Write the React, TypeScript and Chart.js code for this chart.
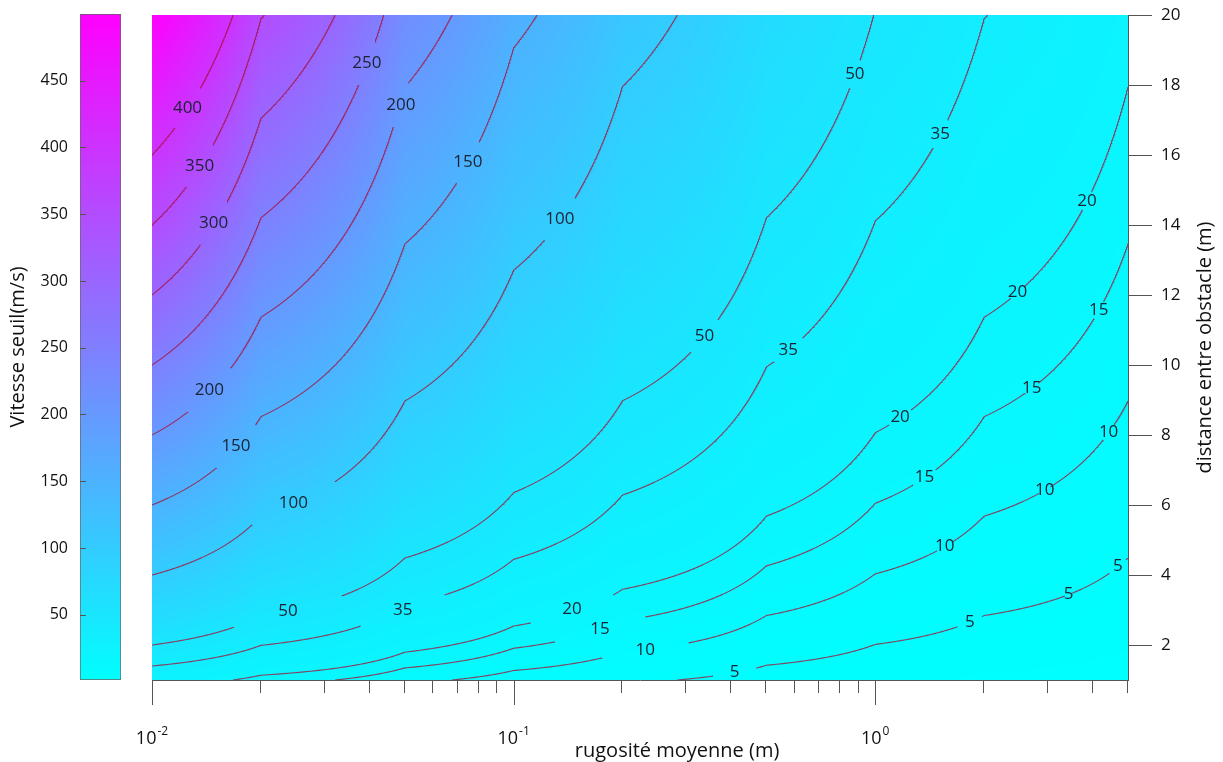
import React, { useEffect, useRef } from "react";
import { Chart, registerables } from "chart.js";

Chart.register(...registerables);

const FONT = "'Open Sans', 'DejaVu Sans', sans-serif";

// Velocity field grid (value at the two distance rows)
const roughness = [0.01, 0.02, 0.05, 0.1, 0.2, 0.5, 1, 2, 5];
const distanceRows = [1, 20];
const velocityAtD1 = [25, 17.6, 11.15, 7.87, 5.57, 3.52, 2.48, 1.76, 1.115];
const velocityAtD20 = [500, 352, 223, 157.4, 111.4, 70.4, 49.6, 35.2, 22.3];

const contourLevels = [5, 10, 15, 20, 35, 50, 100, 150, 200, 250, 300, 350, 400];

const distanceTicks = [2, 4, 6, 8, 10, 12, 14, 16, 18, 20];
const colorbarTicks = [50, 100, 150, 200, 250, 300, 350, 400, 450];
const roughnessMajorTicks = [0.01, 0.1, 1];
const roughnessMajorExponents = ["-2", "-1", "0"];
const roughnessMinorTicks = [
  0.02, 0.03, 0.04, 0.05, 0.06, 0.07, 0.08, 0.09,
  0.2, 0.3, 0.4, 0.5, 0.6, 0.7, 0.8, 0.9,
  2, 3, 4, 5,
];

// Contour labels: level and the distance range (m) where the line is interrupted
const labelLevels = [400, 350, 300, 250, 200, 200, 150, 150, 100, 100, 50, 35, 50, 50, 35, 35, 20, 15, 10, 5, 20, 15, 10, 5, 15, 10, 5, 10, 5, 20, 15, 20];
const labelGapFrom = [16.77, 15.09, 13.43, 18.0, 16.8, 8.66, 15.2, 7.06, 13.57, 5.43, 2.51, 2.54, 10.37, 17.91, 10.09, 16.2, 2.63, 2.09, 1.63, 1.11, 8.29, 6.57, 4.69, 2.52, 9.19, 6.33, 3.4, 7.86, 4.05, 11.9, 11.33, 14.43];
const labelGapTo = [17.91, 16.29, 14.66, 19.23, 18.06, 9.91, 16.37, 8.29, 14.77, 6.66, 3.4, 3.43, 11.29, 18.71, 10.77, 17.0, 3.43, 2.8, 2.06, 1.34, 8.71, 7.0, 4.94, 2.81, 9.48, 6.52, 3.48, 8.29, 4.43, 12.24, 11.81, 14.95];

const vMin = Math.min(...velocityAtD1);
const vMax = Math.max(...velocityAtD20);

function rowAt(i: number, d: number) {
  const s = (d - distanceRows[0]) / (distanceRows[1] - distanceRows[0]);
  return velocityAtD1[i] + s * (velocityAtD20[i] - velocityAtD1[i]);
}

function velocity(x: number, d: number) {
  const n = roughness.length;
  let i = 0;
  while (i < n - 2 && x > roughness[i + 1]) i++;
  let t = (x - roughness[i]) / (roughness[i + 1] - roughness[i]);
  t = Math.max(0, Math.min(1, t));
  const a = rowAt(i, d);
  const b = rowAt(i + 1, d);
  return a + t * (b - a);
}

function roughnessOnContour(level: number, d: number): number | null {
  const n = roughness.length;
  const vals = roughness.map((_, i) => rowAt(i, d));
  const eps = 1e-7;
  if (level > vals[0] + eps || level < vals[n - 1] - eps) return null;
  for (let i = 0; i < n - 1; i++) {
    if (vals[i] >= level - eps && level >= vals[i + 1] - eps) {
      let t = (vals[i] - level) / (vals[i] - vals[i + 1]);
      t = Math.max(0, Math.min(1, t));
      return roughness[i] + t * (roughness[i + 1] - roughness[i]);
    }
  }
  return null;
}

function contourSegments(level: number) {
  const gaps: number[][] = [];
  labelLevels.forEach((l, k) => {
    if (l === level) gaps.push([labelGapFrom[k], labelGapTo[k]]);
  });
  const d0 = distanceRows[0];
  const d1 = distanceRows[1];
  const ds: number[] = [];
  const steps = 760;
  for (let k = 0; k <= steps; k++) ds.push(d0 + ((d1 - d0) * k) / steps);
  roughness.forEach((_, i) => {
    const d = d0 + ((level - velocityAtD1[i]) / (velocityAtD20[i] - velocityAtD1[i])) * (d1 - d0);
    if (d >= d0 && d <= d1) ds.push(d);
  });
  gaps.forEach((g) => ds.push(g[0], g[1]));
  ds.sort((a, b) => a - b);
  const inGap = (d: number) => gaps.some((g) => d > g[0] + 1e-9 && d < g[1] - 1e-9);
  const segs: { x: number; y: number }[][] = [];
  let cur: { x: number; y: number }[] = [];
  for (const d of ds) {
    if (inGap(d)) {
      if (cur.length > 1) segs.push(cur);
      cur = [];
      continue;
    }
    const x = roughnessOnContour(level, d);
    if (x === null) continue;
    if (cur.length > 0) {
      const prev = cur[cur.length - 1];
      if (Math.abs(prev.y - d) < 1e-9) continue;
      if (inGap((prev.y + d) / 2)) {
        if (cur.length > 1) segs.push(cur);
        cur = [];
      }
    }
    cur.push({ x, y: d });
  }
  if (cur.length > 1) segs.push(cur);
  return segs;
}

function cool(v: number): [number, number, number] {
  let t = (v - vMin) / (vMax - vMin);
  t = Math.max(0, Math.min(1, t));
  return [Math.round(255 * t), Math.round(255 * (1 - t)), 255];
}

const fieldPlugin = {
  id: "field",
  beforeDraw(chart: any) {
    const { ctx, chartArea: a, scales } = chart;
    const xs = scales.x;
    const ys = scales.y;
    const w = Math.round(a.right - a.left);
    const h = Math.round(a.bottom - a.top);
    if (!(w > 0 && h > 0)) return;
    const off = document.createElement("canvas");
    off.width = w;
    off.height = h;
    const octx = off.getContext("2d")!;
    const img = octx.createImageData(w, h);
    const colX: number[] = [];
    for (let c = 0; c < w; c++) colX.push(xs.getValueForPixel(a.left + c + 0.5));
    for (let r = 0; r < h; r++) {
      const d = ys.getValueForPixel(a.top + r + 0.5);
      for (let c = 0; c < w; c++) {
        const [R, G, B] = cool(velocity(colX[c], d));
        const o = (r * w + c) * 4;
        img.data[o] = R;
        img.data[o + 1] = G;
        img.data[o + 2] = B;
        img.data[o + 3] = 255;
      }
    }
    octx.putImageData(img, 0, 0);
    ctx.drawImage(off, a.left, a.top);
  },
};

const labelPlugin = {
  id: "contourLabels",
  afterDatasetsDraw(chart: any) {
    const { ctx, scales } = chart;
    const xs = scales.x;
    const ys = scales.y;
    ctx.save();
    ctx.font = `17px ${FONT}`;
    ctx.fillStyle = "#1b2333";
    ctx.textAlign = "center";
    ctx.textBaseline = "middle";
    labelLevels.forEach((level, k) => {
      const xa = roughnessOnContour(level, labelGapFrom[k]);
      const xb = roughnessOnContour(level, labelGapTo[k]);
      if (xa === null || xb === null) return;
      const px = (xs.getPixelForValue(xa) + xs.getPixelForValue(xb)) / 2;
      const py = (ys.getPixelForValue(labelGapFrom[k]) + ys.getPixelForValue(labelGapTo[k])) / 2;
      ctx.fillText(String(level), px, py);
    });
    ctx.restore();
  },
};

const axisPlugin = {
  id: "axisDecor",
  afterDraw(chart: any) {
    const { ctx, chartArea: a, scales } = chart;
    const xs = scales.x;
    ctx.save();
    ctx.strokeStyle = "#555";
    ctx.lineWidth = 1;
    ctx.beginPath();
    roughnessMinorTicks.forEach((v) => {
      const p = Math.round(xs.getPixelForValue(v)) - 0.5;
      ctx.moveTo(p, a.bottom);
      ctx.lineTo(p, a.bottom + 13);
    });
    roughnessMajorTicks.forEach((v) => {
      const p = Math.round(xs.getPixelForValue(v)) + 0.5;
      ctx.moveTo(p, a.bottom);
      ctx.lineTo(p, a.bottom + 25);
    });
    ctx.stroke();

    ctx.fillStyle = "#111";
    ctx.textBaseline = "alphabetic";
    ctx.textAlign = "left";
    roughnessMajorTicks.forEach((v, i) => {
      const p = xs.getPixelForValue(v);
      const exp = roughnessMajorExponents[i];
      ctx.font = `18px ${FONT}`;
      const w1 = ctx.measureText("10").width;
      ctx.font = `12px ${FONT}`;
      const w2 = ctx.measureText(exp).width;
      const left = p - (w1 + w2 + 1) / 2;
      ctx.font = `18px ${FONT}`;
      ctx.fillText("10", left, a.bottom + 64);
      ctx.font = `12px ${FONT}`;
      ctx.fillText(exp, left + w1 + 1, a.bottom + 55);
    });

    ctx.font = `20px ${FONT}`;
    ctx.textAlign = "center";
    ctx.textBaseline = "middle";
    ctx.fillText("rugosité moyenne (m)", a.left + (a.right - a.left) * 0.538, a.bottom + 71);

    ctx.translate(a.right + 77, (a.top + a.bottom) / 2);
    ctx.rotate(-Math.PI / 2);
    ctx.fillText("distance entre obstacle (m)", 0, 0);
    ctx.restore();
  },
};

const colorbarTickPlugin = {
  id: "colorbarTicks",
  afterDatasetsDraw(chart: any) {
    const { ctx, chartArea: a, scales } = chart;
    const ys = scales.y;
    ctx.save();
    ctx.strokeStyle = "#555";
    ctx.lineWidth = 1;
    ctx.beginPath();
    colorbarTicks.forEach((v) => {
      const p = Math.round(ys.getPixelForValue(v)) + 0.5;
      ctx.moveTo(a.left, p);
      ctx.lineTo(a.left + 6, p);
    });
    ctx.stroke();
    ctx.restore();
  },
};

export default function App() {
  const mainRef = useRef<HTMLCanvasElement>(null);
  const barRef = useRef<HTMLCanvasElement>(null);

  useEffect(() => {
    const datasets: any[] = [];
    contourLevels.forEach((level) => {
      contourSegments(level).forEach((seg) => {
        datasets.push({
          label: String(level),
          data: seg,
          showLine: true,
          borderColor: "rgba(170,8,45,0.75)",
          borderWidth: 1.1,
          pointRadius: 0,
          fill: false,
          tension: 0,
        });
      });
    });

    const main = new Chart(mainRef.current!, {
      type: "scatter",
      data: { datasets },
      options: {
        responsive: false,
        animation: false,
        events: [],
        parsing: false,
        layout: { padding: { left: 152, top: 15, right: 0, bottom: 0 } },
        plugins: { legend: { display: false }, tooltip: { enabled: false } },
        scales: {
          x: {
            type: "logarithmic",
            position: "bottom",
            min: 0.01,
            max: 5,
            grid: { display: false, drawTicks: false },
            ticks: { display: false },
            border: { display: true, color: "#555", width: 1 },
            afterFit: (s: any) => {
              s.height = 82;
              s.paddingLeft = 0;
              s.paddingRight = 0;
            },
          },
          y: {
            type: "linear",
            position: "right",
            min: 1,
            max: 20,
            afterBuildTicks: (s: any) => {
              s.ticks = distanceTicks.map((v) => ({ value: v }));
            },
            grid: { drawOnChartArea: false, drawTicks: true, tickLength: 24, color: "#555" },
            border: { display: true, color: "#555", width: 1 },
            ticks: { font: { family: FONT, size: 17 }, color: "#111", padding: 9 },
            afterFit: (s: any) => {
              s.width = 95;
              s.paddingTop = 0;
              s.paddingBottom = 0;
            },
          },
        },
      } as any,
      plugins: [fieldPlugin, labelPlugin, axisPlugin],
    });

    const bar = new Chart(barRef.current!, {
      type: "bar",
      data: {
        labels: ["Vitesse seuil"],
        datasets: [
          {
            data: [[vMin, vMax]] as any,
            backgroundColor: (c: any) => {
              const chart = c.chart;
              const area = chart.chartArea;
              if (!area || !isFinite(area.top) || !isFinite(area.bottom) || area.bottom <= area.top) return "#00ffff";
              const g = chart.ctx.createLinearGradient(0, area.bottom, 0, area.top);
              g.addColorStop(0, "rgb(0,255,255)");
              g.addColorStop(0.5, "rgb(128,127,255)");
              g.addColorStop(1, "rgb(255,0,255)");
              return g;
            },
            borderColor: "#666",
            borderWidth: 1,
            borderSkipped: false,
            barPercentage: 1,
            categoryPercentage: 1,
          } as any,
        ],
      },
      options: {
        responsive: false,
        animation: false,
        events: [],
        layout: { padding: { top: 14, bottom: 82, right: 19, left: 0 } },
        plugins: { legend: { display: false }, tooltip: { enabled: false } },
        scales: {
          x: { display: false },
          y: {
            position: "left",
            min: vMin,
            max: vMax,
            afterBuildTicks: (s: any) => {
              s.ticks = colorbarTicks.map((v) => ({ value: v }));
            },
            afterFit: (s: any) => {
              s.width = 80;
              s.paddingTop = 0;
              s.paddingBottom = 0;
            },
            grid: { display: false, drawTicks: false },
            border: { display: false },
            ticks: { font: { family: FONT, size: 16 }, color: "#111", padding: 12 },
            title: {
              display: true,
              text: "Vitesse seuil(m/s)",
              font: { family: FONT, size: 20 },
              color: "#111",
              padding: { top: 6, bottom: 0 },
            },
          },
        },
      } as any,
      plugins: [colorbarTickPlugin],
    });

    return () => {
      main.destroy();
      bar.destroy();
    };
  }, []);

  return (
    <div style={{ position: "fixed", left: 0, top: 0, width: 1223, height: 762, background: "#fff" }}>
      <canvas ref={mainRef} width={1223} height={762} style={{ position: "absolute", left: 0, top: 0 }} />
      <canvas ref={barRef} width={140} height={762} style={{ position: "absolute", left: 0, top: 0 }} />
    </div>
  );
}
